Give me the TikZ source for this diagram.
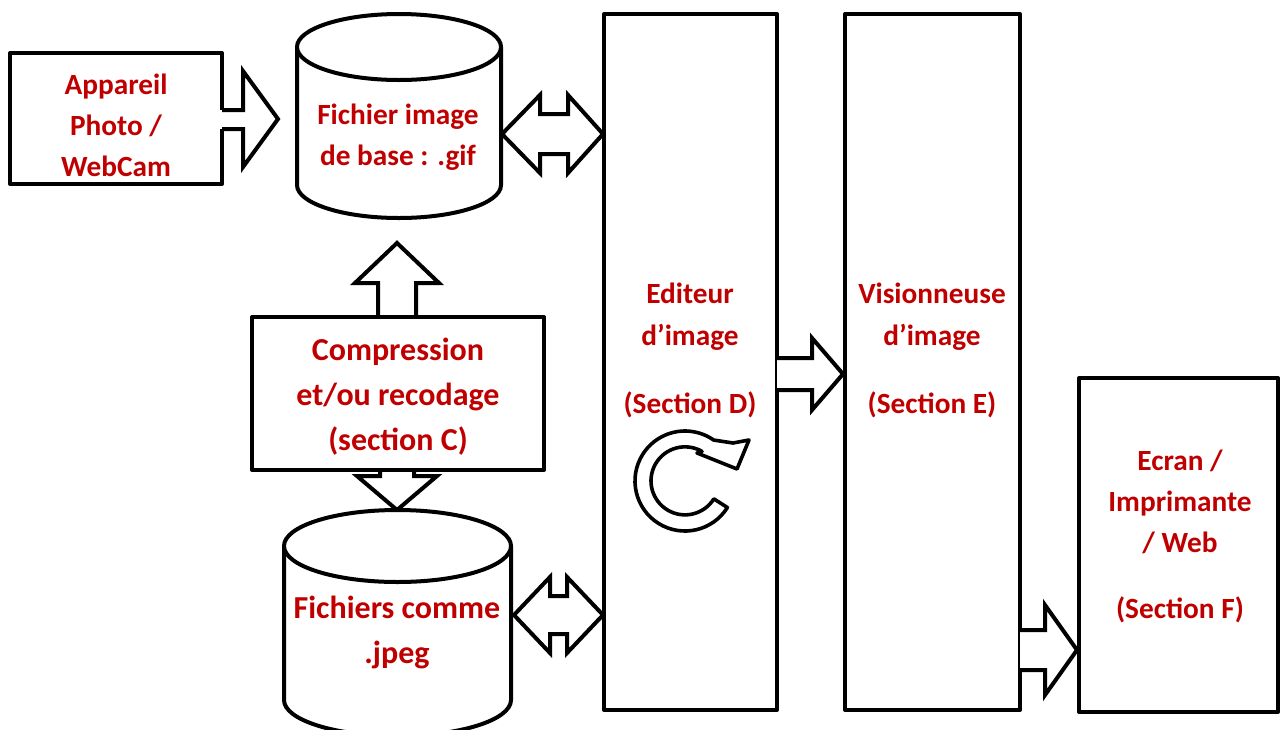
\documentclass[tikz,border=0pt]{standalone}
\usepackage{fontspec}
\setmainfont{Carlito}
\definecolor{txt}{RGB}{192,0,0}
\begin{document}
\begin{tikzpicture}[x=1pt,y=-1pt,
  lbl/.style={font=\fontsize{29.3}{41}\selectfont\bfseries, text=txt, align=center, inner sep=0pt},
  ln/.style={line width=4pt, line join=round, draw=black},
  boxst/.style={ln, fill=white, rectangle, inner sep=0pt},
  arr/.style={ln, fill=white, line join=miter},
]
\useasboundingbox (0,0) rectangle (1280,729);

% coordinates for connectors
\coordinate (upTip) at (397,243);
\coordinate (downTip) at (397,510);

% arrow compression -> gif (up)
\draw[arr] (378,317) -- (378,283) -- (355,283) -- (upTip) -- (439,283) -- (416,283) -- (416,317) -- cycle;
% arrow compression -> jpeg (down)
\draw[arr] (380,465) -- (380,476) -- (357,476) -- (downTip) -- (437,476) -- (414,476) -- (414,465) -- cycle;

% cylinder gif
\draw[ln, fill=white] (297,47) -- (297,185) arc[start angle=180, end angle=0, x radius=102, y radius=33] -- (501,47);
\draw[ln, fill=white] (399,47) ellipse [x radius=102, y radius=33];
\coordinate (gif) at (399,130);
% cylinder jpeg
\draw[ln, fill=white] (284,546) -- (284,700) arc[start angle=180, end angle=0, x radius=113.5, y radius=36] -- (511,546);
\draw[ln, fill=white] (397.5,546) ellipse [x radius=113.5, y radius=36];
\coordinate (jpeg) at (397.5,620);

% boxes
\node[boxst, minimum width=212, minimum height=131] (app) at (116,118.5) {};
\node[boxst, minimum width=173, minimum height=696] (edit) at (690.5,362) {};
\node[boxst, minimum width=175, minimum height=696] (vis) at (932.5,362) {};
\node[boxst, minimum width=292, minimum height=153] (comp) at (398,393.5) {};
\node[boxst, minimum width=199, minimum height=334] (ecran) at (1178.5,545) {};

% Appareil -> gif (merged with box edge)
\fill[white] (219,110) rectangle (243,129);
\draw[ln, line join=miter] (222,110) -- (243,110) -- (243,71) -- (278,119) -- (243,167) -- (243,129) -- (222,129);

% Editeur -> Visionneuse
\draw[ln, fill=white, line join=miter] (777,358) -- (812,358) -- (812,338) -- (843,374) -- (812,410) -- (812,390) -- (777,390);
% Visionneuse -> Ecran
\draw[ln, fill=white, line join=miter] (1020,630) -- (1045,630) -- (1045,605) -- (1077,650) -- (1045,695) -- (1045,670) -- (1020,670);

% double arrow gif <-> Editeur
\draw[arr] (502,134) -- (540,95) -- (540,114) -- (568,114) -- (568,95) -- (603,134) -- (568,173) -- (568,154) -- (540,154) -- (540,173) -- cycle;
% double arrow jpeg <-> Editeur
\draw[arr] (514,615) -- (550,577) -- (550,596) -- (567,596) -- (567,577) -- (603,615) -- (567,653) -- (567,634) -- (550,634) -- (550,653) -- cycle;

% circular arrow
\draw[ln, line width=3.6pt, fill=white] (727.4,507.5) arc[start angle=32, end angle=305, radius=50] -- (733,443) -- (749,440) -- (737,469) -- (697,453) -- (702,451.4) arc[start angle=300, end angle=32, radius=34] -- cycle;

% labels
\node[lbl] (tapp) at (116,125) {Appareil\\Photo /\\WebCam};
\node[lbl] (tgif) at (398,137) {Fichier image\\de base : .gif};
\node[lbl, font=\fontsize{32}{45}\selectfont\bfseries] (tcomp) at (398,397) {Compression\\et/ou recodage\\(section C)};
\node[lbl, font=\fontsize{32}{45}\selectfont\bfseries] (tjpeg) at (397,632) {Fichiers comme\\.jpeg};
\node[lbl, font=\fontsize{29.3}{42}\selectfont\bfseries] (tedit) at (690,350) {Editeur\\d’image\\[26pt](Section D)};
\node[lbl, font=\fontsize{29.3}{42}\selectfont\bfseries] (tvis) at (932,350) {Visionneuse\\d’image\\[26pt](Section E)};
\node[lbl] (tecran) at (1180,536) {Ecran /\\Imprimante\\/ Web\\[25pt](Section F)};
\end{tikzpicture}
\end{document}
